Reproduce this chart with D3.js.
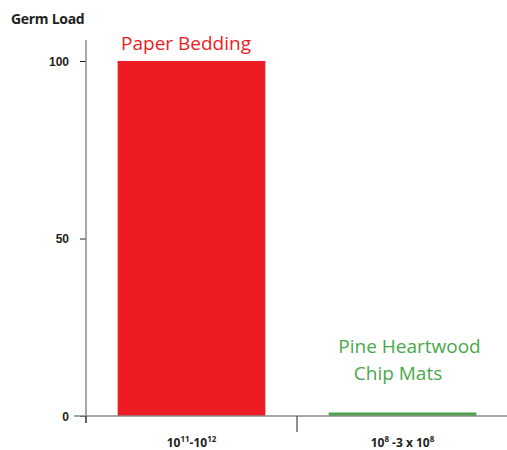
<!DOCTYPE html>
<html>
<head>
<meta charset="utf-8">
<script src="https://cdn.jsdelivr.net/npm/d3@7"></script>
<style>
  body { margin: 0; background: #fff; }
  svg { font-family: "Open Sans", "Noto Sans", sans-serif; }
  .tick-label { font-weight: bold; font-size: 12px; fill: #231f20; }
</style>
</head>
<body>
<div id="wrapper"></div>
<script>
// data
const categories = ["paper", "pine"]
const values = [100, 1]
const seriesNames = [["Paper Bedding"], ["Pine Heartwood", "Chip Mats"]]
const categoryLabels = [
  [["10", "11"], ["-10", "12"]],
  [["10", "8"], [" -3 x 10", "8"]],
]
const yTicks = [0, 50, 100]
const colors = ["#ed1c24", "#4aa84a"]

function drawBars() {
  const dimensions = {
    width: 507,
    height: 450,
    margin: { top: 61, right: -1, bottom: 34, left: 86 },
  }
  dimensions.boundedWidth = dimensions.width - dimensions.margin.left - dimensions.margin.right
  dimensions.boundedHeight = dimensions.height - dimensions.margin.top - dimensions.margin.bottom

  const svg = d3.select("#wrapper").append("svg")
      .attr("width", dimensions.width)
      .attr("height", dimensions.height)

  const bounds = svg.append("g")
      .attr("transform", `translate(${dimensions.margin.left},${dimensions.margin.top})`)

  // scales
  const xScale = d3.scaleBand()
    .domain(categories)
    .range([0, dimensions.boundedWidth])
    .paddingInner(0.3)
    .paddingOuter(0.15)

  const yScale = d3.scaleLinear()
    .domain([0, 100])
    .range([dimensions.boundedHeight, 0])

  const center = d => xScale(d) + xScale.bandwidth() / 2

  // bars
  bounds.selectAll(".bar")
    .data(categories)
    .join("rect")
      .attr("class", "bar")
      .attr("x", d => xScale(d))
      .attr("y", (d, i) => yScale(values[i]))
      .attr("width", xScale.bandwidth())
      .attr("height", (d, i) => yScale(0) - yScale(values[i]))
      .attr("fill", (d, i) => colors[i])

  // y axis
  const yAxis = bounds.append("g")
    .call(d3.axisLeft(yScale).tickValues(yTicks).tickSize(6).tickPadding(11))
  yAxis.select(".domain").remove()
  yAxis.selectAll(".tick line").attr("stroke", "#231f20")
  yAxis.selectAll(".tick text").attr("class", "tick-label").attr("dy", "0.36em")
  yAxis.append("line")
      .attr("x1", 0).attr("x2", 0)
      .attr("y1", -21).attr("y2", dimensions.boundedHeight + 7)
      .attr("stroke", "#8a8a8a").attr("stroke-width", 1.5)

  // x axis
  const xAxis = bounds.append("g")
      .attr("transform", `translate(0,${dimensions.boundedHeight})`)
  xAxis.append("line")
      .attr("x1", -12).attr("x2", dimensions.boundedWidth)
      .attr("stroke", "#8a8a8a").attr("stroke-width", 1.5)
  // boundary tick between categories
  const step = xScale.step()
  xAxis.append("line")
      .attr("x1", step).attr("x2", step)
      .attr("y1", 0).attr("y2", 16)
      .attr("stroke", "#231f20")
  xAxis.append("line")
      .attr("x1", 0).attr("x2", 0)
      .attr("y1", 0).attr("y2", 7)
      .attr("stroke", "#231f20")

  const labels = xAxis.selectAll(".cat-label")
    .data(categories)
    .join("text")
      .attr("class", "tick-label")
      .attr("x", d => center(d))
      .attr("y", 31)
      .attr("text-anchor", "middle")
      .style("font-size", "12px")
  labels.each(function(d, i) {
    const t = d3.select(this)
    categoryLabels[i].forEach(([base, sup], j) => {
      t.append("tspan").attr("dy", j === 0 ? 0 : 5).text(base)
      t.append("tspan").attr("dy", -5).style("font-size", "8px").text(sup)
    })
  })

  // series labels
  bounds.append("text")
      .attr("x", center("paper") - 5.5)
      .attr("y", -11)
      .attr("text-anchor", "middle")
      .attr("fill", colors[0])
      .style("font-size", "19px")
      .text(seriesNames[0][0])

  const pineLabel = bounds.append("text")
      .attr("x", center("pine") + 7)
      .attr("y", 292)
      .attr("text-anchor", "middle")
      .attr("fill", colors[1])
      .style("font-size", "19px")
  pineLabel.append("tspan").text(seriesNames[1][0])
  pineLabel.append("tspan")
      .attr("x", center("pine") - 4.5)
      .attr("dy", 27)
      .text(seriesNames[1][1])

  // title
  svg.append("text")
      .attr("x", 11)
      .attr("y", 24)
      .attr("fill", "#231f20")
      .style("font-weight", "bold")
      .style("font-size", "14px")
      .style("letter-spacing", "-0.3px")
      .text("Germ Load")
}
drawBars()
</script>
</body>
</html>
